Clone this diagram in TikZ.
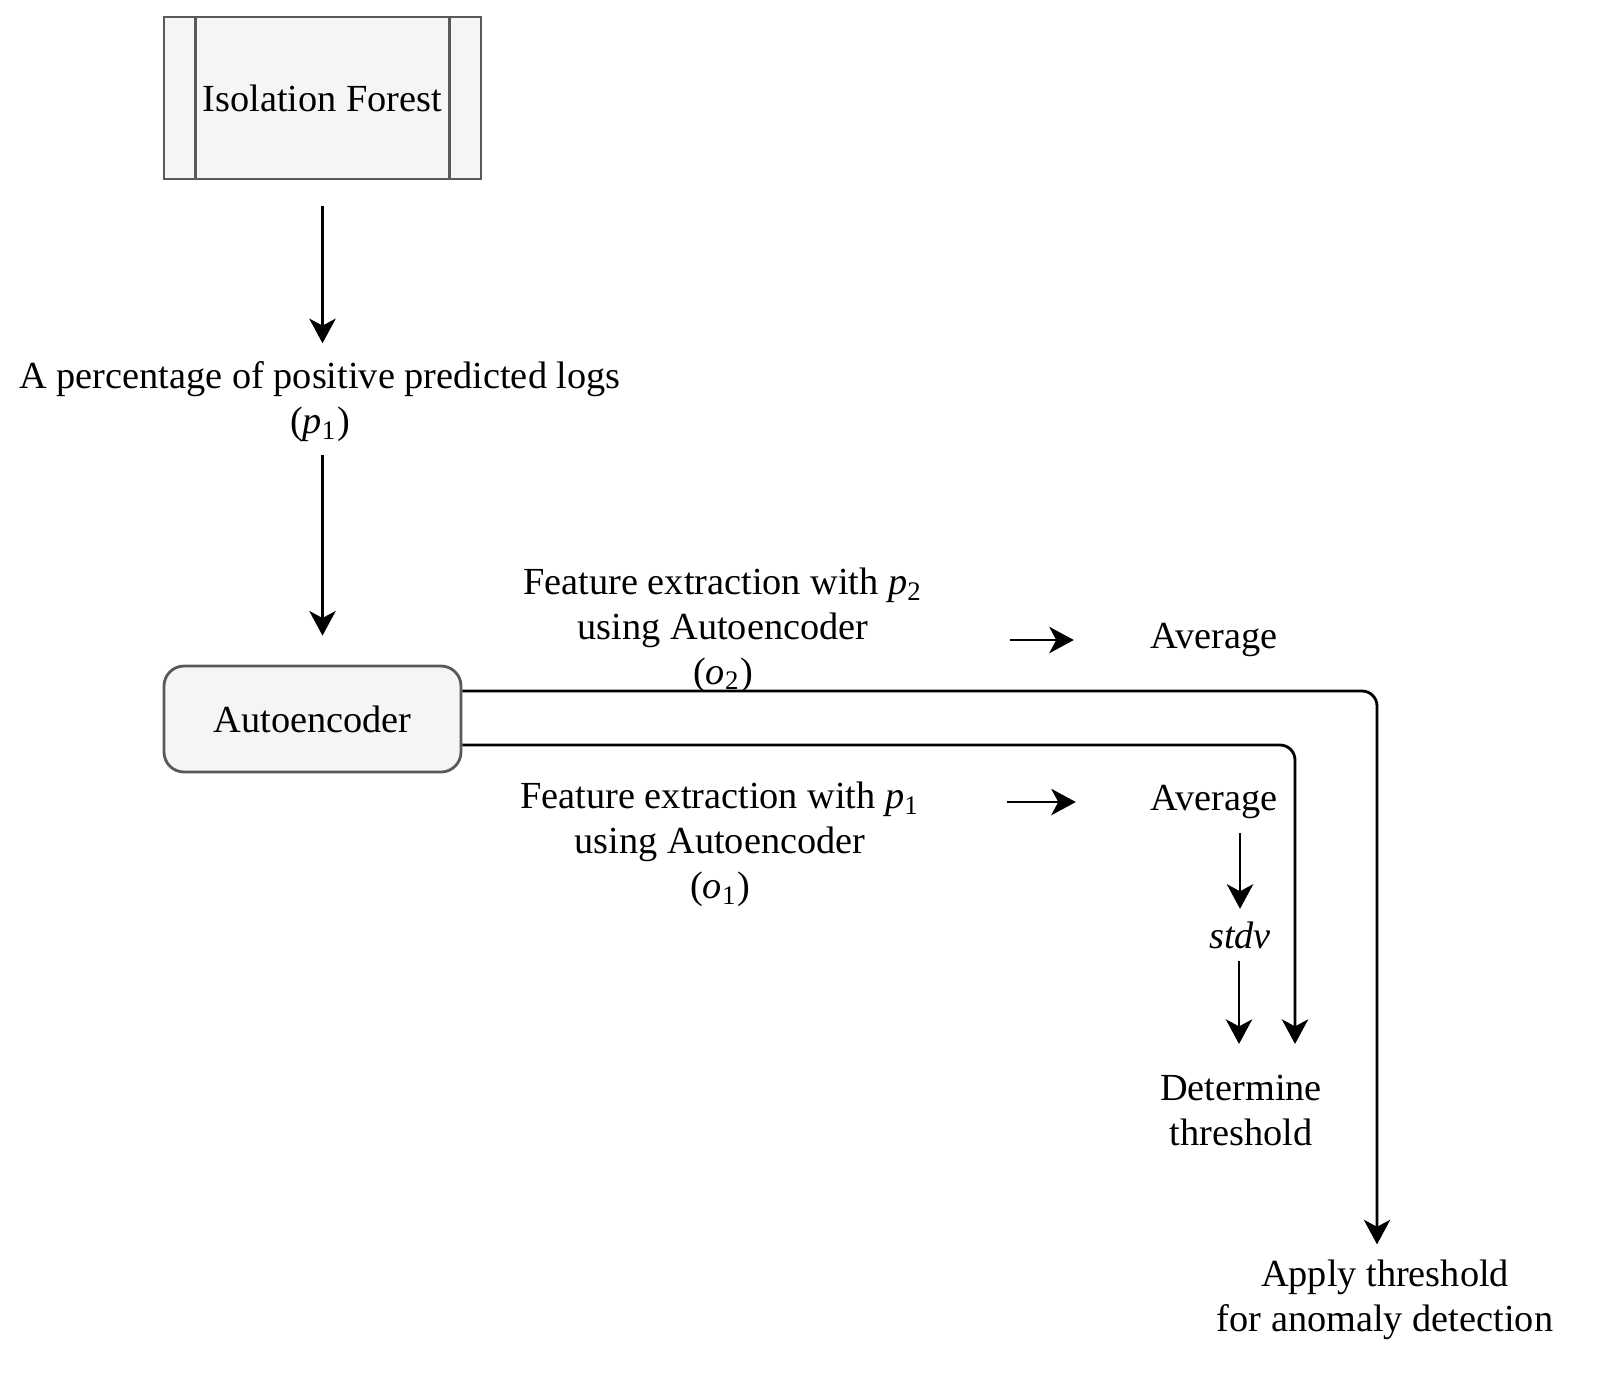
\documentclass[tikz,border=0pt]{standalone}
\usepackage{fontspec}
\setmainfont{Liberation Serif}
\usetikzlibrary{arrows.meta}
\newcommand{\sbs}[2]{\textit{#1}\textsubscript{#2}}
\begin{document}
\begin{tikzpicture}[font=\fontsize{10.9pt}{12.8pt}\selectfont,
  box/.style={draw=black!65, fill=black!4, line width=0.8pt},
  lbl/.style={align=center, inner sep=0pt},
  arr/.style={-{Stealth[length=7pt,width=7.5pt,inset=2pt]}, line width=0.8pt}]
  \useasboundingbox (0,0) rectangle (16.03,-13.79);
  \node[box, minimum width=3.17cm, minimum height=1.62cm] (1) at (3.225, -0.98) {Isolation Forest};
  \draw[black!65, line width=0.8pt] ([xshift=0.33cm]1.south west) -- ([xshift=0.33cm]1.north west);
  \draw[black!65, line width=0.8pt] ([xshift=-0.33cm]1.south east) -- ([xshift=-0.33cm]1.north east);
  \node[lbl] (2) at (3.2, -4.02) {A percentage of positive predicted logs\\(\sbs{p}{1})};
  \node[box, rounded corners=0.2cm, minimum width=2.97cm, minimum height=1.06cm] (3) at (3.125, -7.19) {Autoencoder};
  \node[lbl] (4) at (7.23, -6.30) {Feature extraction with \sbs{p}{2}\\using Autoencoder\\(\sbs{o}{2})};
  \node[lbl] (5) at (12.14, -6.40) {Average};
  \node[lbl] (6) at (7.2, -8.44) {Feature extraction with \sbs{p}{1}\\using Autoencoder\\(\sbs{o}{1})};
  \node[lbl] (7) at (12.14, -8.02) {Average};
  \node[lbl, font=\fontsize{10.9pt}{12.8pt}\selectfont\itshape] (8) at (12.40, -9.35) {stdv};
  \node[lbl] (9) at (12.41, -11.10) {Determine\\threshold};
  \node[lbl] (10) at (13.85, -13.00) {Apply threshold\\for anomaly detection};
  \draw[arr, shorten <=0.26cm, shorten >=0.18cm] (1.south) -- (1.south |- 2.north);
  \draw[arr, shorten <=0.12cm, shorten >=0.29cm] (2.south -| 1.south) -- (1.south |- 3.north);
  \draw[arr, shorten <=0.87cm, shorten >=0.76cm] (5 -| 4.east) -- (5.west);
  \draw[arr, shorten <=0.87cm, shorten >=0.74cm] (7 -| 6.east) -- (7.west);
  \draw[arr, shorten <=0.13cm, shorten >=0.12cm] ([xshift=0.26cm]7.south) -- ([xshift=0.26cm]7.south |- 8.north);
  \draw[arr, shorten <=0.12cm, shorten >=0.3cm] ([xshift=-0.01cm]8.south) -- ([xshift=-0.01cm]8.south |- 9.north);
  \draw[arr, rounded corners=0.15cm, shorten >=0.3cm] ([yshift=-0.26cm]3.east) -| ([xshift=0.54cm]9.north);
  \draw[arr, rounded corners=0.15cm, shorten >=0.15cm] ([yshift=0.28cm]3.east) -| ([xshift=-0.08cm]10.north);
\end{tikzpicture}
\end{document}
